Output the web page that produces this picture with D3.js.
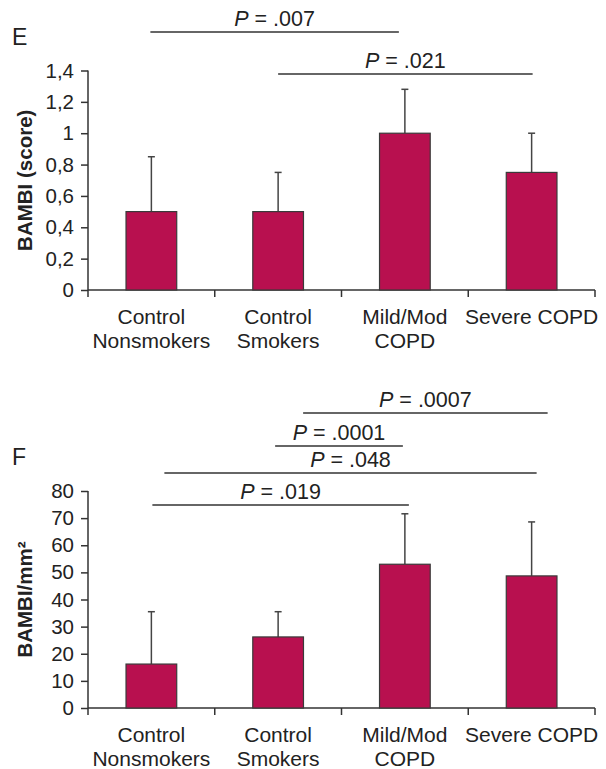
<!DOCTYPE html>
<html>
<head>
<meta charset="utf-8">
<script src="https://cdn.jsdelivr.net/npm/d3@7"></script>
<style>
  body { margin: 0; background: #fff; }
  svg { display: block; font-family: "Liberation Sans", Arial, Helvetica, sans-serif; }
</style>
</head>
<body>
<svg id="chart" width="606" height="769"></svg>
<script>
// groups on the x axis (each entry = label lines)
const categories = [["Control", "Nonsmokers"], ["Control", "Smokers"], ["Mild/Mod", "COPD"], ["Severe COPD"]];

// panel E: BAMBI score
const scoreMeans = [0.5, 0.5, 1.0, 0.75];
const scoreSD = [0.35, 0.25, 0.28, 0.25];
const scoreTicks = [0, 0.2, 0.4, 0.6, 0.8, 1, 1.2, 1.4];
const scoreComparisons = [
  { a: 0, b: 2, p: ".007" },
  { a: 1, b: 3, p: ".021" }
];

// panel F: BAMBI per mm2
const densityMeans = [16.2, 26.2, 53, 48.7];
const densitySD = [19.3, 9.3, 18.6, 19.9];
const densityTicks = [0, 10, 20, 30, 40, 50, 60, 70, 80];
const densityComparisons = [
  { a: 1, b: 3, p: ".0007" },
  { a: 1, b: 2, p: ".0001" },
  { a: 0, b: 3, p: ".048" },
  { a: 0, b: 2, p: ".019" }
];

const svg = d3.select("#chart");
const left = 88, right = 595;
const barFill = "#b8104f", ink = "#333";

const commaFmt = d3.formatLocale({ decimal: ",", thousands: ".", grouping: [3], currency: ["", ""] }).format("~g");

function drawPanel(o) {
  const g = svg.append("g");

  const x = d3.scaleBand()
    .domain(d3.range(categories.length))
    .range([left, right])
    .paddingInner(0.6)
    .paddingOuter(0.3);

  const y = d3.scaleLinear().domain(o.domain).range([o.bottom, o.top]);

  // y axis
  const yAxis = g.append("g")
    .attr("transform", `translate(${left},0)`)
    .call(d3.axisLeft(y).tickValues(o.ticks).tickFormat(o.fmt).tickSize(7).tickPadding(7).tickSizeOuter(0));
  yAxis.select(".domain").attr("stroke", ink).attr("stroke-width", 1.5)
    .attr("d", `M0,${o.top}V${o.bottom + 7}`);
  yAxis.selectAll(".tick line").attr("stroke", ink).attr("stroke-width", 1.5);
  yAxis.selectAll(".tick text").attr("font-size", 20.5).attr("fill", "#222");

  // x axis with ticks at group boundaries
  const step = x.step();
  const bounds = d3.range(categories.length + 1).map(i => left + i * step);
  g.append("line")
    .attr("x1", left).attr("x2", right)
    .attr("y1", o.bottom).attr("y2", o.bottom)
    .attr("stroke", ink).attr("stroke-width", 1.5);
  g.selectAll(".xt").data(bounds.slice(1)).join("line")
    .attr("x1", d => d).attr("x2", d => d)
    .attr("y1", o.bottom).attr("y2", o.bottom + 7)
    .attr("stroke", ink).attr("stroke-width", 1.5);

  // category labels
  const lab = g.selectAll(".cat").data(categories).join("text")
    .attr("text-anchor", "middle")
    .attr("font-size", 21)
    .attr("fill", "#222");
  lab.selectAll("tspan").data((d, i) => d.map(t => ({ t, i }))).join("tspan")
    .attr("x", d => x(d.i) + x.bandwidth() / 2)
    .attr("y", (d, j) => o.bottom + 33.5 + j * 24)
    .text(d => d.t);

  // error bars (upper only)
  const cx = i => x(i) + x.bandwidth() / 2;
  o.means.forEach((m, i) => {
    const top = y(m + o.sd[i]);
    g.append("line")
      .attr("x1", cx(i)).attr("x2", cx(i))
      .attr("y1", y(m)).attr("y2", top)
      .attr("stroke", "#444").attr("stroke-width", 1.5);
    g.append("line")
      .attr("x1", cx(i) - 3.5).attr("x2", cx(i) + 3.5)
      .attr("y1", top).attr("y2", top)
      .attr("stroke", "#444").attr("stroke-width", 1.5);
  });

  // bars
  g.selectAll(".bar").data(o.means).join("rect")
    .attr("x", (d, i) => x(i))
    .attr("y", d => y(d))
    .attr("width", x.bandwidth())
    .attr("height", d => o.bottom - y(d))
    .attr("fill", barFill)
    .attr("stroke", "#3a3a3a")
    .attr("stroke-width", 1.2);

  // y title
  g.append("text")
    .attr("transform", `translate(32,${(o.top + o.bottom) / 2}) rotate(-90)`)
    .attr("text-anchor", "middle")
    .attr("font-size", 20.5)
    .attr("font-weight", "bold")
    .attr("fill", "#222")
    .text(o.title);

  // panel letter
  g.append("text")
    .attr("x", 12).attr("y", o.letterY)
    .attr("font-size", 23)
    .attr("fill", "#222")
    .text(o.letter);

  // significance lines
  o.comparisons.forEach((c, k) => {
    const lay = o.cmpLayout[k];
    const x1 = cx(c.a) + lay.dx[0], x2 = cx(c.b) + lay.dx[1];
    g.append("line")
      .attr("x1", x1).attr("x2", x2)
      .attr("y1", lay.y).attr("y2", lay.y)
      .attr("stroke", ink).attr("stroke-width", 1.5);
    const t = g.append("text")
      .attr("x", (x1 + x2) / 2).attr("y", lay.y - 6)
      .attr("text-anchor", "middle")
      .attr("font-size", 21.5)
      .attr("fill", "#222");
    t.append("tspan").attr("font-style", "italic").text("P");
    t.append("tspan").text(" = " + c.p);
  });
}

drawPanel({
  means: scoreMeans, sd: scoreSD, ticks: scoreTicks, fmt: commaFmt,
  domain: [0, 1.4], top: 70.5, bottom: 290,
  title: "BAMBI (score)", letter: "E", letterY: 45,
  comparisons: scoreComparisons,
  cmpLayout: [{ y: 32, dx: [-1, -6] }, { y: 74, dx: [0, 1] }]
});

drawPanel({
  means: densityMeans, sd: densitySD, ticks: densityTicks, fmt: d3.format("d"),
  domain: [0, 80], top: 491, bottom: 708,
  title: "BAMBI/mm\u00b2", letter: "F", letterY: 465,
  comparisons: densityComparisons,
  cmpLayout: [
    { y: 413, dx: [25, 16] },
    { y: 446, dx: [-3, -2] },
    { y: 473, dx: [13, 5] },
    { y: 505, dx: [1, 4] }
  ]
});
</script>
</body>
</html>
